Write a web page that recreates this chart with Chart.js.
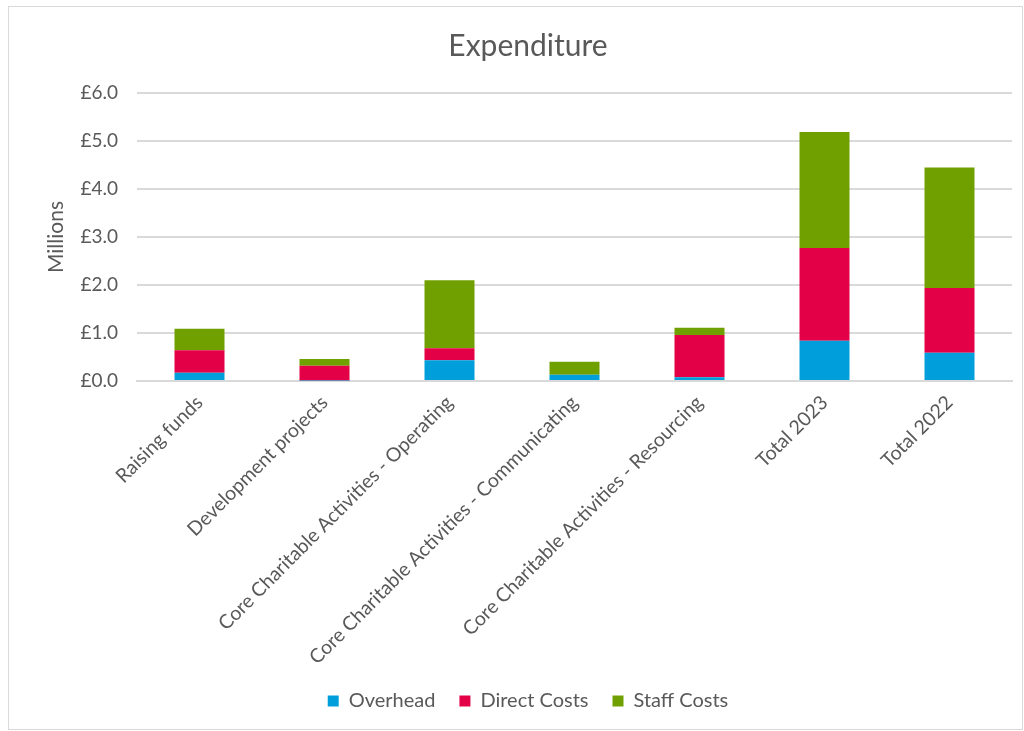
<!DOCTYPE html>
<html>
<head>
<meta charset="utf-8">
<script src="https://cdn.jsdelivr.net/npm/chart.js@4"></script>
<style>
  html, body { margin: 0; padding: 0; background: #fff; }
  #wrap { position: relative; width: 1024px; height: 731px; }
  #frame { position: absolute; left: 8px; top: 6px; width: 1013px; height: 722px; border: 1px solid #d9d9d9; pointer-events: none; }
</style>
</head>
<body>
<div id="wrap">
  <canvas id="expenditureChart" width="1024" height="731"></canvas>
  <div id="frame"></div>
</div>
<script>
const categories = [
  "Raising funds",
  "Development projects",
  "Core Charitable Activities - Operating",
  "Core Charitable Activities - Communicating",
  "Core Charitable Activities - Resourcing",
  "Total 2023",
  "Total 2022",
];

// £ millions
const overhead = [0.17, 0.01, 0.43, 0.13, 0.08, 0.84, 0.59];
const directCosts = [0.47, 0.31, 0.25, 0.0, 0.88, 1.93, 1.35];
const staffCosts = [0.45, 0.14, 1.42, 0.27, 0.15, 2.42, 2.51];

const yTicks = [0, 1, 2, 3, 4, 5, 6];

const textGrey = "#595959";
const fontFamily = "Lato, 'Open Sans', sans-serif";

const ctx = document.getElementById("expenditureChart").getContext("2d");

new Chart(ctx, {
  type: "bar",
  data: {
    labels: categories,
    datasets: [
      { label: "Overhead", data: overhead, backgroundColor: "#009fdc" },
      { label: "Direct Costs", data: directCosts, backgroundColor: "#e40046" },
      { label: "Staff Costs", data: staffCosts, backgroundColor: "#70a000" },
    ],
  },
  options: {
    responsive: false,
    animation: false,
    layout: {
      padding: { left: 44, right: 12, top: 28, bottom: 10 },
    },
    datasets: {
      bar: { categoryPercentage: 1.0, barPercentage: 0.4 },
    },
    scales: {
      x: {
        stacked: true,
        grid: { display: false },
        border: { display: true, color: "#d9d9d9", width: 2 },
        ticks: {
          color: textGrey,
          font: { family: fontFamily, size: 19.5 },
          minRotation: 45,
          maxRotation: 45,
          autoSkip: false,
          padding: 2,
        },
        // keep the rotated labels from squeezing the plot
        afterFit: (axis) => {
          axis.height = 286;
        },
      },
      y: {
        stacked: true,
        min: 0,
        max: 6,
        afterBuildTicks: (axis) => {
          axis.ticks = yTicks.map((v) => ({ value: v }));
        },
        afterFit: (axis) => {
          axis.width = 93;
        },
        grid: { color: "#d9d9d9", lineWidth: 2, drawTicks: false },
        border: { display: false },
        ticks: {
          color: textGrey,
          font: { family: fontFamily, size: 19 },
          padding: 19,
          callback: (v) => "£" + Number(v).toFixed(1),
        },
        title: {
          display: true,
          text: "Millions",
          color: textGrey,
          font: { family: fontFamily, size: 21 },
          padding: 0,
        },
      },
    },
    plugins: {
      title: {
        display: true,
        text: "Expenditure",
        color: textGrey,
        font: { family: fontFamily, size: 30, weight: "normal" },
        padding: { top: 0, bottom: 29 },
      },
      legend: {
        position: "bottom",
        labels: {
          color: textGrey,
          font: { family: fontFamily, size: 20 },
          boxWidth: 11,
          boxHeight: 11,
          padding: 24,
        },
      },
      tooltip: { enabled: false },
    },
  },
});
</script>
</body>
</html>
